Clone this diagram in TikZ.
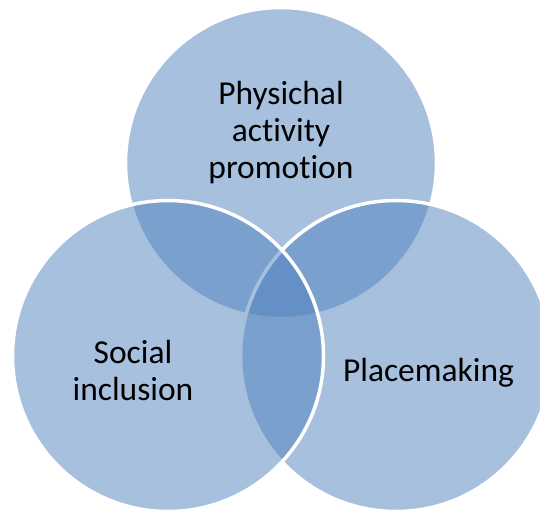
\documentclass[tikz,border=0pt]{standalone}
\usepackage{fontspec}
\setmainfont{Carlito}[Ligatures=NoCommon]
\definecolor{vennblue}{RGB}{79,129,189}
\begin{document}
\begin{tikzpicture}[x=1pt,y=-1pt,
  venn/.style={circle, minimum size=311pt, inner sep=0pt, outer sep=0pt,
    fill=vennblue, fill opacity=0.5, draw=white, draw opacity=1, line width=3.5pt},
  lbl/.style={font=\fontsize{33.5}{37}\selectfont, align=center, text=black, inner sep=0pt}]
\useasboundingbox (0,0) rectangle (540,512);
\clip (0,0) rectangle (540,512);
\node[venn] (top) at (281,163) {};
\node[venn] (right) at (396,356) {};
\node[venn] (left) at (168,356) {};
\node[lbl, anchor=base] (tl) at (281,178) {Physichal\\activity\\promotion};
\node[lbl, anchor=base] (ll) at (133,400) {Social\\inclusion};
\node[lbl, anchor=base] (rl) at (428.5,381) {Placemaking};
\end{tikzpicture}
\end{document}
